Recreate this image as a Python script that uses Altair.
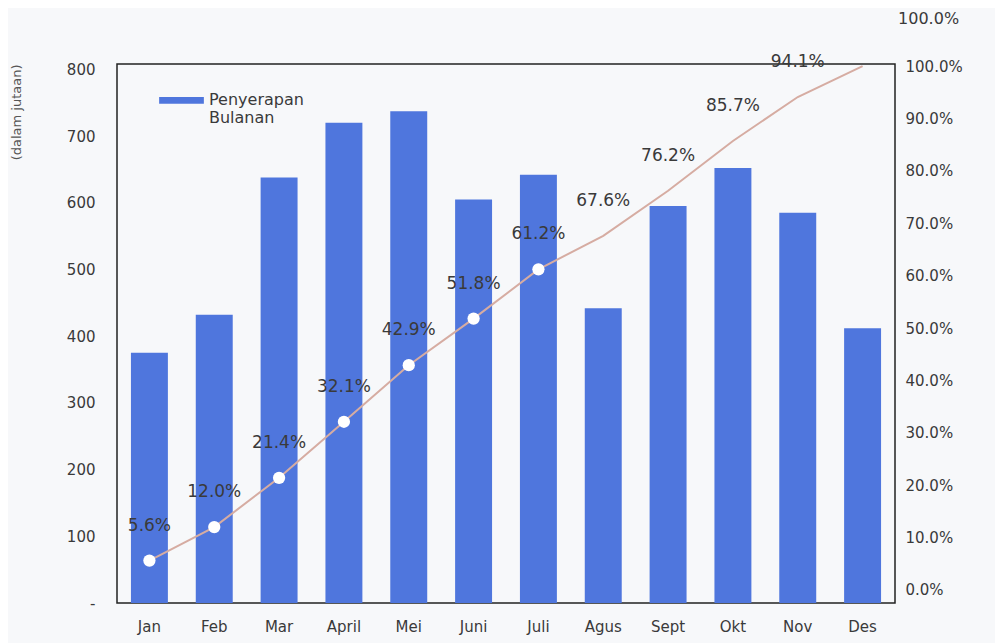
import altair as alt
import pandas as pd

months = ["Jan", "Feb", "Mar", "April", "Mei", "Juni", "Juli", "Agus", "Sept", "Okt", "Nov", "Des"]
monthly = [375, 432, 638, 720, 737, 605, 642, 442, 595, 652, 585, 412]
cumulative = [0.056, 0.120, 0.214, 0.321, 0.429, 0.518, 0.612, 0.676, 0.762, 0.857, 0.941, 1.000]
cum_labels = ["5.6%", "12.0%", "21.4%", "32.1%", "42.9%", "51.8%", "61.2%",
              "67.6%", "76.2%", "85.7%", "94.1%", "100.0%"]
left_ticks = [0, 100, 200, 300, 400, 500, 600, 700, 800]
right_ticks = [0.0, 0.1, 0.2, 0.3, 0.4, 0.5, 0.6, 0.7, 0.8, 0.9, 1.0]

df = pd.DataFrame({
    "month": months,
    "monthly": monthly,
    "cum": cumulative,
    "label": cum_labels,
    "idx": list(range(len(months))),
    "series": ["Penyerapan Bulanan"] * len(months),
})

FONT = "DejaVu Sans"
TXT = "#3a3a3a"
BAR = "#4f76dd"

xenc = alt.X("month:N", sort=months,
             scale=alt.Scale(paddingInner=0.43, paddingOuter=0.215),
             axis=alt.Axis(title=None, labelAngle=0, ticks=False, domain=False,
                           labelPadding=16, labelFontSize=15, labelColor=TXT, labelFont=FONT))

bars = alt.Chart(df).mark_bar(color=BAR).encode(
    x=xenc,
    y=alt.Y("monthly:Q",
            scale=alt.Scale(domain=[0, 808], nice=False),
            axis=alt.Axis(values=left_ticks, grid=False, ticks=False, domain=False,
                          labelPadding=22, labelFontSize=15, labelColor=TXT, labelFont=FONT,
                          labelExpr="datum.value == 0 ? '-' : datum.label",
                          title="(dalam jutaan)", titleAngle=-90, titleFontSize=13,
                          titleFontWeight="normal", titleColor="#555555", titleFont=FONT,
                          titleX=-101, titleY=0, titleAlign="right", titleBaseline="middle")),
    color=alt.Color("series:N", scale=alt.Scale(range=[BAR]),
                    legend=alt.Legend(title=None, orient="none", legendX=42, legendY=18,
                                      symbolType="M-1,-0.33H1V-0.03H-1Z", symbolSize=2000,
                                      symbolStrokeWidth=0, labelFontSize=16, labelColor=TXT,
                                      labelFont=FONT, labelBaseline="alphabetic", labelOffset=5,
                                      labelExpr="['Penyerapan', 'Bulanan']")),
)

yr = alt.Y("cum:Q",
           scale=alt.Scale(domain=[-0.025, 1.004], nice=False),
           axis=alt.Axis(orient="right", values=right_ticks, format=".1%", grid=False,
                         ticks=False, domain=False, labelPadding=10, labelFontSize=15,
                         labelColor=TXT, labelFont=FONT, title=None))

base = alt.Chart(df).encode(x=xenc, y=yr)

line = base.mark_line(color="#d6aca2", strokeWidth=2)
points = base.transform_filter("datum.idx <= 6").mark_point(
    filled=True, color="white", size=150, opacity=1, shape="circle")
labels = base.transform_filter("datum.idx < 11").mark_text(
    dy=-35, fontSize=17, color=TXT, font=FONT).encode(text="label:N")
last_label = base.transform_filter("datum.idx == 11").mark_text(
    dx=66, dy=-47, fontSize=16, color=TXT, font=FONT).encode(text="label:N")

right = alt.layer(line, points, labels, last_label)

chart = alt.layer(bars, right).resolve_scale(y="independent").properties(
    width=778, height=539,
    autosize=alt.AutoSizeParams(type="none"),
    padding={"left": 109, "top": 56, "right": 100, "bottom": 40},
    background="#f7f8fa",
).configure_view(stroke="#222222", strokeWidth=1.5)

chart.save("out.html", embed_options={"renderer": "svg", "actions": False})
